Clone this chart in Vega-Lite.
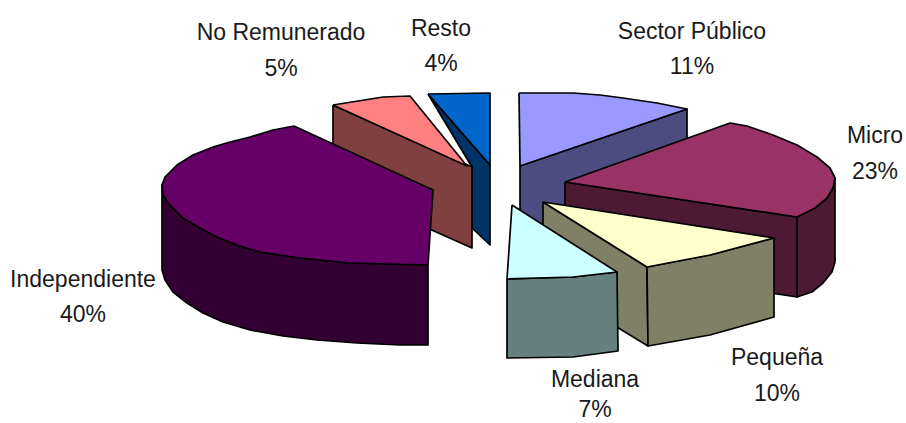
{
  "$schema": "https://vega.github.io/schema/vega-lite/v6.json",
  "width": 906,
  "height": 423,
  "padding": 0,
  "autosize": {"type": "none"},
  "background": "white",
  "view": {"stroke": null},
  "datasets": {
    "faces": [
      {"part":"Resto lado","i":0,"x":428,"y":94},{"part":"Resto lado","i":1,"x":490,"y":165},{"part":"Resto lado","i":2,"x":490,"y":245},{"part":"Resto lado","i":3,"x":472,"y":228},{"part":"Resto lado","i":4,"x":472,"y":167},{"part":"Resto lado","i":5,"x":428,"y":94},
      {"part":"Resto","i":0,"x":428,"y":94},{"part":"Resto","i":1,"x":490,"y":93},{"part":"Resto","i":2,"x":490,"y":165},{"part":"Resto","i":3,"x":428,"y":94},
      {"part":"No Remunerado lado","i":0,"x":333,"y":105},{"part":"No Remunerado lado","i":1,"x":472,"y":167},{"part":"No Remunerado lado","i":2,"x":472,"y":248},{"part":"No Remunerado lado","i":3,"x":333,"y":186},{"part":"No Remunerado lado","i":4,"x":333,"y":105},
      {"part":"No Remunerado","i":0,"x":333,"y":105},{"part":"No Remunerado","i":1,"x":383,"y":97},{"part":"No Remunerado","i":2,"x":410,"y":96},{"part":"No Remunerado","i":3,"x":467,"y":166},{"part":"No Remunerado","i":4,"x":333,"y":105},
      {"part":"Independiente lado","i":0,"x":162,"y":185},{"part":"Independiente lado","i":1,"x":163,"y":195},{"part":"Independiente lado","i":2,"x":170,"y":205},{"part":"Independiente lado","i":3,"x":183,"y":218},{"part":"Independiente lado","i":4,"x":200,"y":228},{"part":"Independiente lado","i":5,"x":217,"y":237},{"part":"Independiente lado","i":6,"x":237,"y":245},{"part":"Independiente lado","i":7,"x":260,"y":252},{"part":"Independiente lado","i":8,"x":300,"y":258},{"part":"Independiente lado","i":9,"x":350,"y":263},{"part":"Independiente lado","i":10,"x":428,"y":265},{"part":"Independiente lado","i":11,"x":428,"y":345},{"part":"Independiente lado","i":12,"x":400,"y":345},{"part":"Independiente lado","i":13,"x":357,"y":343},{"part":"Independiente lado","i":14,"x":317,"y":340},{"part":"Independiente lado","i":15,"x":283,"y":336},{"part":"Independiente lado","i":16,"x":250,"y":330},{"part":"Independiente lado","i":17,"x":223,"y":322},{"part":"Independiente lado","i":18,"x":203,"y":313},{"part":"Independiente lado","i":19,"x":187,"y":303},{"part":"Independiente lado","i":20,"x":173,"y":292},{"part":"Independiente lado","i":21,"x":165,"y":280},{"part":"Independiente lado","i":22,"x":162,"y":270},{"part":"Independiente lado","i":23,"x":162,"y":185},
      {"part":"Independiente","i":0,"x":294,"y":126},{"part":"Independiente","i":1,"x":273,"y":130},{"part":"Independiente","i":2,"x":250,"y":137},{"part":"Independiente","i":3,"x":230,"y":142},{"part":"Independiente","i":4,"x":213,"y":147},{"part":"Independiente","i":5,"x":193,"y":155},{"part":"Independiente","i":6,"x":177,"y":165},{"part":"Independiente","i":7,"x":165,"y":177},{"part":"Independiente","i":8,"x":162,"y":185},{"part":"Independiente","i":9,"x":163,"y":195},{"part":"Independiente","i":10,"x":170,"y":205},{"part":"Independiente","i":11,"x":183,"y":218},{"part":"Independiente","i":12,"x":200,"y":228},{"part":"Independiente","i":13,"x":217,"y":237},{"part":"Independiente","i":14,"x":237,"y":245},{"part":"Independiente","i":15,"x":260,"y":252},{"part":"Independiente","i":16,"x":300,"y":258},{"part":"Independiente","i":17,"x":350,"y":263},{"part":"Independiente","i":18,"x":428,"y":265},{"part":"Independiente","i":19,"x":433,"y":190},{"part":"Independiente","i":20,"x":294,"y":126},
      {"part":"Sector Público lado","i":0,"x":520,"y":166},{"part":"Sector Público lado","i":1,"x":687,"y":109},{"part":"Sector Público lado","i":2,"x":687,"y":190},{"part":"Sector Público lado","i":3,"x":520,"y":247},{"part":"Sector Público lado","i":4,"x":520,"y":166},
      {"part":"Sector Público","i":0,"x":519,"y":93},{"part":"Sector Público","i":1,"x":573,"y":93},{"part":"Sector Público","i":2,"x":600,"y":95},{"part":"Sector Público","i":3,"x":623,"y":98},{"part":"Sector Público","i":4,"x":657,"y":103},{"part":"Sector Público","i":5,"x":687,"y":109},{"part":"Sector Público","i":6,"x":520,"y":166},{"part":"Sector Público","i":7,"x":519,"y":93},
      {"part":"Micro lado","i":0,"x":565,"y":182},{"part":"Micro lado","i":1,"x":797,"y":217},{"part":"Micro lado","i":2,"x":797,"y":297},{"part":"Micro lado","i":3,"x":565,"y":262},{"part":"Micro lado","i":4,"x":565,"y":182},
      {"part":"Micro curva","i":0,"x":797,"y":217},{"part":"Micro curva","i":1,"x":815,"y":208},{"part":"Micro curva","i":2,"x":827,"y":198},{"part":"Micro curva","i":3,"x":833,"y":188},{"part":"Micro curva","i":4,"x":835,"y":178},{"part":"Micro curva","i":5,"x":835,"y":262},{"part":"Micro curva","i":6,"x":832,"y":272},{"part":"Micro curva","i":7,"x":823,"y":283},{"part":"Micro curva","i":8,"x":812,"y":292},{"part":"Micro curva","i":9,"x":797,"y":297},{"part":"Micro curva","i":10,"x":797,"y":217},
      {"part":"Micro","i":0,"x":565,"y":182},{"part":"Micro","i":1,"x":730,"y":123},{"part":"Micro","i":2,"x":747,"y":126},{"part":"Micro","i":3,"x":773,"y":135},{"part":"Micro","i":4,"x":797,"y":145},{"part":"Micro","i":5,"x":817,"y":157},{"part":"Micro","i":6,"x":830,"y":168},{"part":"Micro","i":7,"x":835,"y":178},{"part":"Micro","i":8,"x":833,"y":188},{"part":"Micro","i":9,"x":827,"y":198},{"part":"Micro","i":10,"x":815,"y":208},{"part":"Micro","i":11,"x":797,"y":217},{"part":"Micro","i":12,"x":565,"y":182},
      {"part":"Pequeña lado","i":0,"x":543,"y":202},{"part":"Pequeña lado","i":1,"x":647,"y":267},{"part":"Pequeña lado","i":2,"x":648,"y":346},{"part":"Pequeña lado","i":3,"x":543,"y":282},{"part":"Pequeña lado","i":4,"x":543,"y":202},
      {"part":"Pequeña curva","i":0,"x":647,"y":267},{"part":"Pequeña curva","i":1,"x":710,"y":255},{"part":"Pequeña curva","i":2,"x":774,"y":238},{"part":"Pequeña curva","i":3,"x":774,"y":317},{"part":"Pequeña curva","i":4,"x":710,"y":335},{"part":"Pequeña curva","i":5,"x":648,"y":346},{"part":"Pequeña curva","i":6,"x":647,"y":267},
      {"part":"Pequeña","i":0,"x":543,"y":202},{"part":"Pequeña","i":1,"x":774,"y":238},{"part":"Pequeña","i":2,"x":710,"y":255},{"part":"Pequeña","i":3,"x":647,"y":267},{"part":"Pequeña","i":4,"x":543,"y":202},
      {"part":"Mediana lado","i":0,"x":507,"y":279},{"part":"Mediana lado","i":1,"x":573,"y":277},{"part":"Mediana lado","i":2,"x":617,"y":272},{"part":"Mediana lado","i":3,"x":618,"y":351},{"part":"Mediana lado","i":4,"x":573,"y":357},{"part":"Mediana lado","i":5,"x":507,"y":358},{"part":"Mediana lado","i":6,"x":507,"y":279},
      {"part":"Mediana","i":0,"x":512,"y":205},{"part":"Mediana","i":1,"x":617,"y":272},{"part":"Mediana","i":2,"x":573,"y":277},{"part":"Mediana","i":3,"x":507,"y":279},{"part":"Mediana","i":4,"x":512,"y":205}
    ],
    "labels": [
      {"name":"Independiente","pct":"40%","x":83,"y":280,"y2":315},
      {"name":"No Remunerado","pct":"5%","x":281,"y":33,"y2":69},
      {"name":"Resto","pct":"4%","x":441,"y":29,"y2":64},
      {"name":"Sector Público","pct":"11%","x":692,"y":32,"y2":67},
      {"name":"Micro","pct":"23%","x":875,"y":136,"y2":172},
      {"name":"Pequeña","pct":"10%","x":777,"y":358,"y2":394},
      {"name":"Mediana","pct":"7%","x":595,"y":380,"y2":410}
    ]
  },
  "layer": [
    {
      "data": {"name": "faces"},
      "mark": {"type": "line", "stroke": "#000000", "strokeWidth": 1.7, "strokeJoin": "round", "interpolate": "linear"},
      "encoding": {
        "x": {"field": "x", "type": "quantitative", "scale": {"domain": [0, 906]}, "axis": null},
        "y": {"field": "y", "type": "quantitative", "scale": {"domain": [423, 0]}, "axis": null},
        "order": {"field": "i", "type": "quantitative"},
        "detail": {"field": "part"},
        "fill": {
          "field": "part",
          "type": "nominal",
          "legend": null,
          "scale": {
            "domain": ["Resto lado","Resto","No Remunerado lado","No Remunerado","Independiente lado","Independiente","Sector Público lado","Sector Público","Micro lado","Micro curva","Micro","Pequeña lado","Pequeña curva","Pequeña","Mediana lado","Mediana"],
            "range": ["#003366","#0066CC","#804040","#FF8080","#330033","#660066","#4C4C80","#9999FF","#4C1A33","#4C1A33","#993366","#808066","#808066","#FFFFCC","#668080","#CCFFFF"]
          }
        }
      }
    },
    {
      "data": {"name": "labels"},
      "mark": {"type": "text", "font": "Liberation Sans", "fontSize": 23, "fill": "#1a1a1a", "align": "center", "baseline": "middle"},
      "encoding": {
        "x": {"field": "x", "type": "quantitative", "scale": {"domain": [0, 906]}, "axis": null},
        "y": {"field": "y", "type": "quantitative", "scale": {"domain": [423, 0]}, "axis": null},
        "text": {"field": "name"}
      }
    },
    {
      "data": {"name": "labels"},
      "mark": {"type": "text", "font": "Liberation Sans", "fontSize": 23, "fill": "#1a1a1a", "align": "center", "baseline": "middle"},
      "encoding": {
        "x": {"field": "x", "type": "quantitative", "scale": {"domain": [0, 906]}, "axis": null},
        "y": {"field": "y2", "type": "quantitative", "scale": {"domain": [423, 0]}, "axis": null},
        "text": {"field": "pct"}
      }
    }
  ]
}
